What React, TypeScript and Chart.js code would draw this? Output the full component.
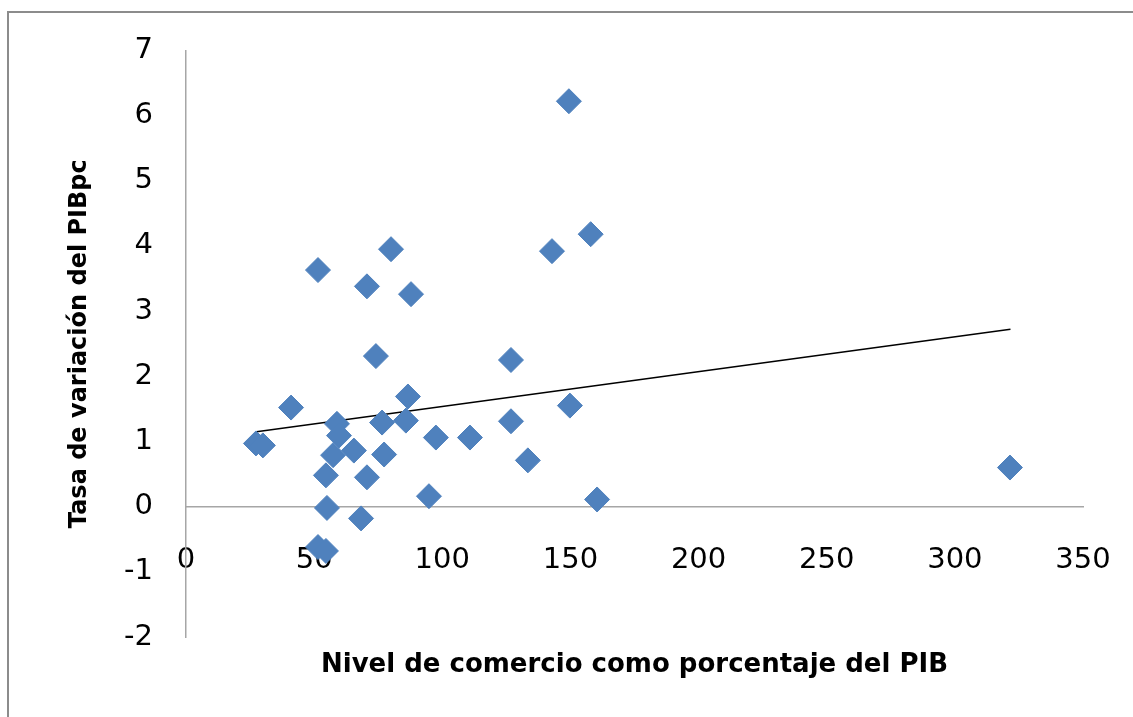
import React, { useEffect, useRef } from "react";
import { Chart, registerables } from "chart.js";

Chart.register(...registerables);

// Nivel de comercio como porcentaje del PIB (x) and Tasa de variación del PIBpc (y)
const tradeX = [
  149.4, 157.9, 142.8, 80.0, 51.5, 70.6, 87.8, 74.1, 126.8, 41.0,
  86.6, 149.8, 58.9, 76.5, 85.8, 126.8, 59.7, 97.5, 110.8, 27.3,
  30.0, 57.4, 65.5, 77.3, 133.4, 54.6, 70.6, 94.8, 160.4, 321.5,
  55.0, 68.3, 51.5, 54.6,
];
const growthY = [
  6.22, 4.18, 3.92, 3.95, 3.63, 3.38, 3.26, 2.31, 2.25, 1.52,
  1.69, 1.55, 1.27, 1.29, 1.32, 1.31, 1.09, 1.06, 1.06, 0.97,
  0.94, 0.79, 0.86, 0.80, 0.71, 0.48, 0.45, 0.16, 0.11, 0.60,
  -0.02, -0.18, -0.62, -0.68,
];
// Linear trendline endpoints
const trendX = [27.5, 321.7];
const trendY = [1.15, 2.72];

const xTitle = "Nivel de comercio como porcentaje del PIB";
const yTitle = "Tasa de variación del PIBpc";

export default function App() {
  const canvasRef = useRef<HTMLCanvasElement | null>(null);

  useEffect(() => {
    const canvas = canvasRef.current;
    if (!canvas) return;
    const points = tradeX.map((x, i) => ({ x, y: growthY[i] }));
    const trend = trendX.map((x, i) => ({ x, y: trendY[i] }));
    const tickFont = { family: "'DejaVu Sans', sans-serif", size: 29 };
    const xTitleFont = { family: "'DejaVu Sans', sans-serif", size: 26, weight: "bold" as const };
    const yTitleFont = { family: "'DejaVu Sans', sans-serif", size: 24, weight: "bold" as const };

    const chart = new Chart(canvas, {
      type: "scatter",
      data: {
        datasets: [
          {
            label: "Datos",
            data: points,
            pointStyle: "rectRot",
            pointRadius: 12.5,
            pointHoverRadius: 12.5,
            backgroundColor: "#4f81bd",
            borderColor: "#4f81bd",
            borderWidth: 1,
            order: 1,
          },
          {
            label: "Tendencia",
            data: trend,
            showLine: true,
            pointRadius: 0,
            borderColor: "#000000",
            borderWidth: 1.5,
            fill: false,
            order: 2,
          },
        ],
      },
      options: {
        responsive: false,
        animation: false,
        devicePixelRatio: 1,
        layout: { padding: { left: 0, top: 48, right: 50, bottom: 80 } },
        plugins: {
          legend: { display: false },
          tooltip: { enabled: false },
        },
        scales: {
          x: {
            type: "linear",
            min: 0,
            max: 350,
            position: { y: 0 } as any,
            grid: { display: true, color: "rgba(0,0,0,0)", drawTicks: false },
            border: { display: true, color: "#a6a6a6", width: 1.5 },
            ticks: {
              stepSize: 50,
              padding: 36,
              maxRotation: 0,
              autoSkip: false,
              color: "#000000",
              font: tickFont,
            },
            title: {
              display: true,
              text: xTitle,
              color: "#000000",
              font: xTitleFont,
              padding: 0,
            },
            afterFit: (scale: any) => {
              scale.height = 174.6;
              scale.paddingLeft = 0;
              scale.paddingRight = 0;
            },
          },
          y: {
            type: "linear",
            min: -2,
            max: 7,
            position: "left",
            grid: { display: true, color: "rgba(0,0,0,0)", drawTicks: false },
            border: { display: true, color: "#a6a6a6", width: 1.5 },
            ticks: {
              stepSize: 1,
              padding: 33,
              color: "#000000",
              font: tickFont,
            },
            title: {
              display: true,
              text: yTitle,
              color: "#000000",
              font: yTitleFont,
              padding: { top: 65.6, bottom: 0 },
            },
            afterFit: (scale: any) => {
              scale.width = 186;
            },
          },
        },
      },
    });
    return () => chart.destroy();
  }, []);

  return (
    <div
      style={{
        position: "absolute",
        left: 0,
        top: 0,
        width: 1133,
        height: 717,
        overflow: "hidden",
        background: "#ffffff",
      }}
    >
      <div
        style={{
          position: "absolute",
          left: 7,
          top: 11,
          width: 1200,
          height: 800,
          border: "2px solid #8c8c8c",
          boxSizing: "border-box",
        }}
      />
      <canvas
        ref={canvasRef}
        width={1133}
        height={717}
        style={{ position: "absolute", left: 0, top: 0, width: 1133, height: 717 }}
      />
    </div>
  );
}
